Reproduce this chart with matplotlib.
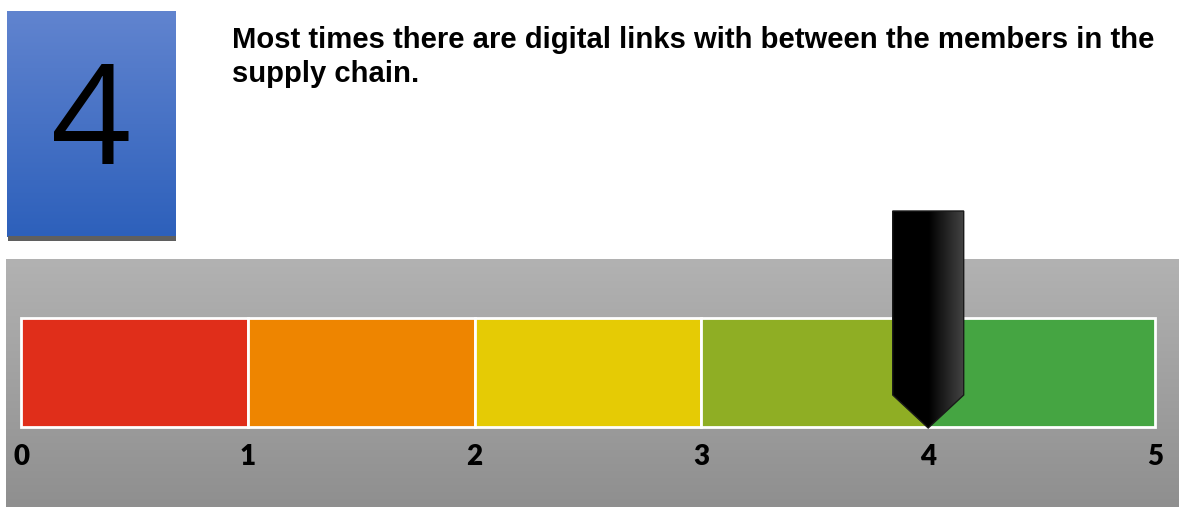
import numpy as np
import matplotlib
matplotlib.use("Agg")
from matplotlib import pyplot as plt
from matplotlib.colors import LinearSegmentedColormap
from matplotlib.patches import Polygon, Rectangle

# gauge data
score = 4
segment_starts = [0, 1, 2, 3, 4]
segment_colors = ["#e02e1a", "#ee8500", "#e5cb05", "#8fae24", "#45a542"]
tick_values = [0, 1, 2, 3, 4, 5]
title = "Most times there are digital links with between the members in the\nsupply chain."

W, H = 1184, 507
fig = plt.figure(figsize=(W / 100, H / 100), dpi=100)

# background / decoration axes in pixel coordinates
bg = fig.add_axes([0, 0, 1, 1])
bg.axis("off")

# grey panel with vertical gradient
grey = LinearSegmentedColormap.from_list("grey", ["#b2b2b2", "#8f8f8f"])
bg.imshow(np.linspace(0, 1, 256).reshape(-1, 1), cmap=grey, aspect="auto",
          extent=[6, 1179, 507, 259])

# blue score box with shadow
bg.add_patch(Rectangle((8, 236), 168, 5, color="#5f5f5f", lw=0))
blue = LinearSegmentedColormap.from_list("blue", ["#6184cf", "#2d60bb"])
bg.imshow(np.linspace(0, 1, 256).reshape(-1, 1), cmap=blue, aspect="auto",
          extent=[7, 176, 237, 11])
bg.text(91, 128, str(score), fontsize=101, family="Open Sans", ha="center",
        va="center", color="black")

bg.text(232, 26, title, fontsize=21.1, family="Liberation Sans", weight="bold",
        ha="left", va="top", linespacing=1.26)

bg.set_xlim(0, W)
bg.set_ylim(H, 0)

# gauge axes: x in score units, y in pixels
ax = fig.add_axes([0, 0, 1, 1])
ax.patch.set_alpha(0)
ax.axis("off")
x0, unit = 21, 226.8
ax.set_xlim(-x0 / unit, (W - x0) / unit)
ax.set_ylim(H, 0)

ax.bar(segment_starts, 109, width=1, bottom=318, align="edge",
       color=segment_colors, edgecolor="white", linewidth=2)

for v in tick_values:
    ax.text(v, 457, str(v), fontsize=20, family="Lato", weight="heavy",
            ha="center", va="center", color="black")

# pointer
hw = 35.5 / unit
pts = [(score - hw, 211), (score + hw, 211), (score + hw, 395),
       (score, 428), (score - hw, 395)]
ptr = Polygon(pts, closed=True, facecolor="none", edgecolor="#1a1a1a",
              lw=1, zorder=5)
ax.add_patch(ptr)
shade = LinearSegmentedColormap.from_list(
    "ptr", [(0, "#000000"), (0.5, "#000000"), (1, "#444444")])
im = ax.imshow(np.linspace(0, 1, 256).reshape(1, -1), cmap=shade,
               aspect="auto", extent=[score - hw, score + hw, 428, 211],
               zorder=4)
im.set_clip_path(ptr)
ax.set_xlim(-x0 / unit, (W - x0) / unit)
ax.set_ylim(H, 0)

fig.savefig("out.png", dpi=100)
